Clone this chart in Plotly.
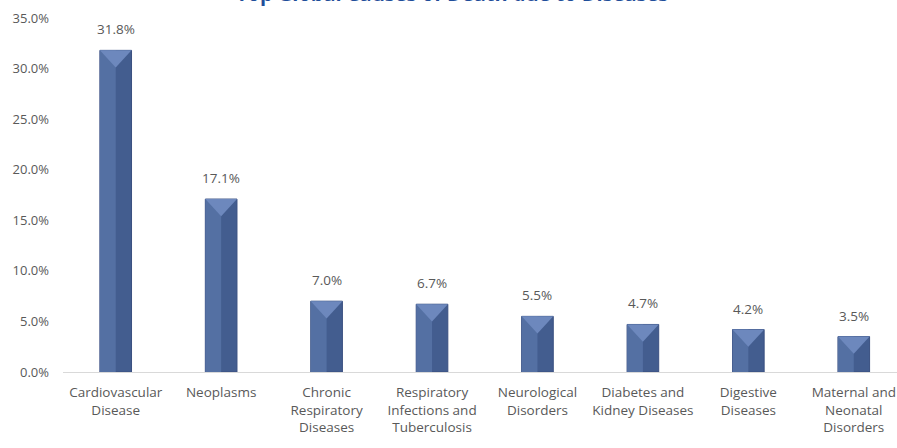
import plotly.graph_objects as go

categories = ["Cardiovascular<br>Disease", "Neoplasms", "Chronic<br>Respiratory<br>Diseases",
              "Respiratory<br>Infections and<br>Tuberculosis", "Neurological<br>Disorders",
              "Diabetes and<br>Kidney Diseases", "Digestive<br>Diseases",
              "Maternal and<br>Neonatal<br>Disorders"]
values = [31.8, 17.1, 7.0, 6.7, 5.5, 4.7, 4.2, 3.5]
title_text = "Top Global Causes of Death due to Diseases"

xs = list(range(len(values)))
W = 0.30
FONT = "Open Sans"
GRAY = "#595959"

fig = go.Figure()
# base (darker) bar
fig.add_trace(go.Bar(x=xs, y=values, width=W, marker=dict(color="#435d8f", line=dict(color="#3a5080", width=1)),
                     hoverinfo="skip"))
# lighter left half
fig.add_trace(go.Bar(x=xs, y=values, width=W / 2, offset=-W / 2, marker=dict(color="#5470a3", line=dict(width=0)),
                     hoverinfo="skip"))

# bevel triangles at top
for i, v in enumerate(values):
    d = min(1.7, v * 0.5)
    fig.add_trace(go.Scatter(x=[i - W / 2, i + W / 2, i, i - W / 2], y=[v, v, v - d, v],
                             fill="toself", fillcolor="#6d88bd", mode="lines",
                             line=dict(width=0), hoverinfo="skip"))

fig.update_layout(
    width=897, height=448,
    margin=dict(l=63, r=0, t=18, b=76, autoexpand=False),
    paper_bgcolor="white", plot_bgcolor="white",
    barmode="overlay", showlegend=False,
    font=dict(family=FONT, size=13, color=GRAY),
    xaxis=dict(range=[-0.5, 7.41], tickvals=xs, ticktext=categories, showgrid=False,
               showline=True, linecolor="#d9d9d9", linewidth=1, ticks="", zeroline=False,
               tickfont=dict(size=13.5, color=GRAY), ticklabelstandoff=8, automargin=False),
    yaxis=dict(range=[0, 35], dtick=5, tickformat=".1f", ticksuffix="%", showgrid=False,
               showline=False, zeroline=False, ticks="", tickfont=dict(size=13, color=GRAY),
               ticklabelstandoff=13, automargin=False),
)

for i, v in enumerate(values):
    fig.add_annotation(x=i, y=v, text=f"{v:.1f}%", showarrow=False, yanchor="bottom", yshift=10,
                       font=dict(size=13.5, color=GRAY, family=FONT))

fig.add_annotation(x=0.466, xref="paper", y=1, yref="paper", yanchor="bottom", yshift=9,
                   text=f"<b>{title_text}</b>", showarrow=False,
                   font=dict(size=20, color="#1f4e9a", family=FONT))

fig.write_html("out.html", config={"displayModeBar": False},
               post_script="document.body.style.margin='0px';document.body.style.overflow='hidden';")
